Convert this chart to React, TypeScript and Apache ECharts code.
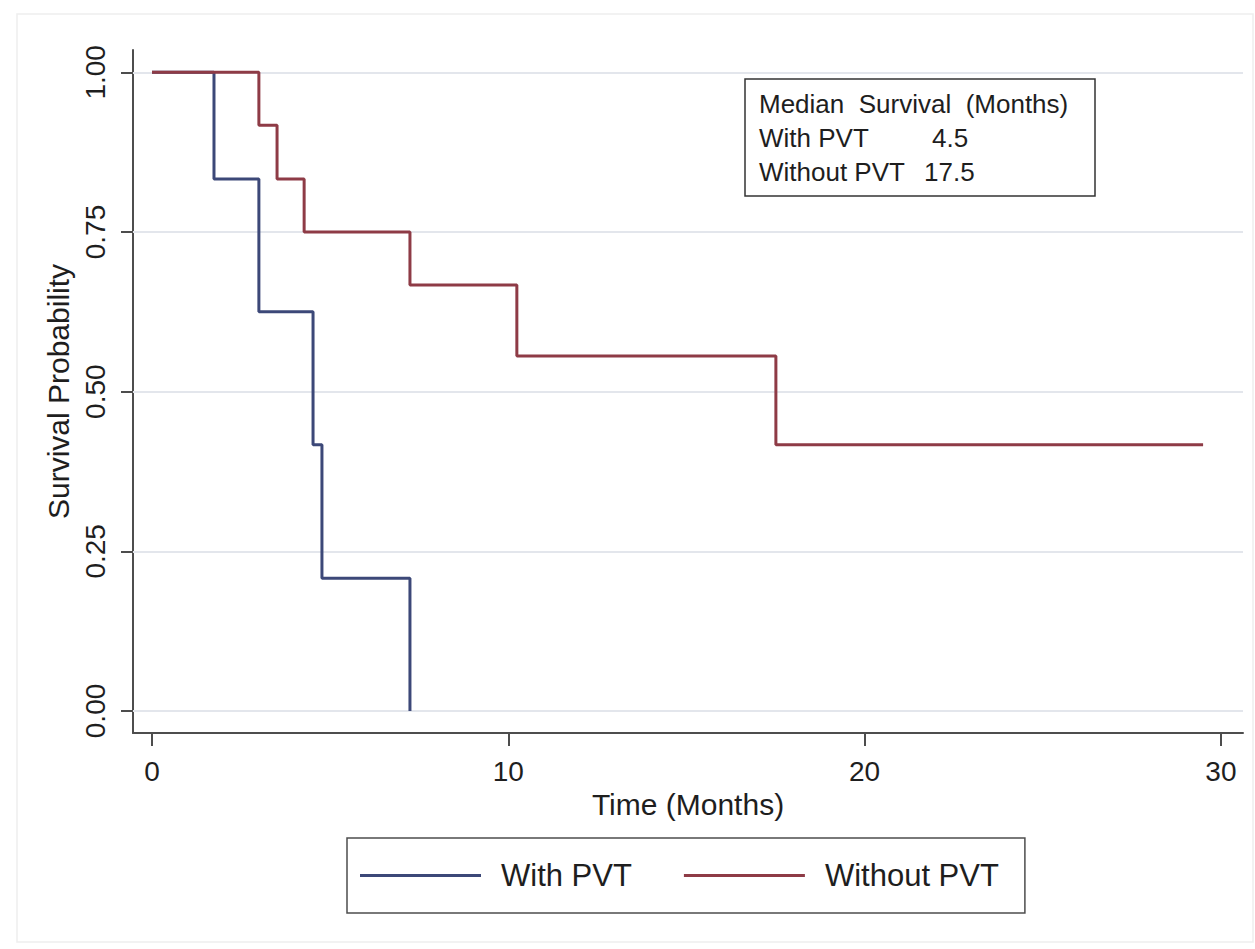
import React, { useEffect, useRef } from "react";
import * as echarts from "echarts";

// ---- data ----
const seriesNames = ["With PVT", "Without PVT"];
const withPvtTimes = [0, 1.74, 3.0, 4.52, 4.77, 7.24];
const withPvtSurv = [1, 0.833, 0.625, 0.417, 0.208, 0];
const withoutPvtTimes = [0, 3.0, 3.51, 4.27, 7.24, 10.24, 17.51, 29.5];
const withoutPvtSurv = [1, 0.917, 0.833, 0.75, 0.667, 0.556, 0.417, 0.417];
const xTicks = [0, 10, 20, 30];
const yTicks = [0, 0.25, 0.5, 0.75, 1];
const medianTitle = "Median  Survival  (Months)";
const medianGroups = ["With PVT", "Without PVT"];
const medianValues = ["4.5", "17.5"];
const xTitle = "Time (Months)";
const yTitle = "Survival Probability";

const FONT = "Arial, 'Liberation Sans', sans-serif";
const BLUE = "#3c4878";
const RED = "#8e3b46";
const AXIS = "#4d4d4d";
const TEXT = "#1e1e1e";

export default function App() {
  const ref = useRef<HTMLDivElement>(null);

  useEffect(() => {
    if (!ref.current) return;
    const chart = echarts.init(ref.current, undefined, { renderer: "svg" });

    const blueData = withPvtTimes.map((t, i) => [t, withPvtSurv[i]]);
    const redData = withoutPvtTimes.map((t, i) => [t, withoutPvtSurv[i]]);

    const option: any = {
      animation: false,
      backgroundColor: "#ffffff",
      grid: { left: 133, right: 12, top: 50, bottom: 216, containLabel: false },
      xAxis: {
        type: "value",
        min: -0.533,
        max: 30.62,
        axisLine: { show: true, onZero: false, lineStyle: { color: AXIS, width: 2 } },
        axisTick: { show: true, customValues: xTicks, length: 13, lineStyle: { color: AXIS, width: 2 } },
        axisLabel: { customValues: xTicks, fontSize: 28, color: TEXT, margin: 24, fontFamily: FONT },
        splitLine: { show: false },
        name: xTitle,
        nameLocation: "middle",
        nameGap: 55,
        nameTextStyle: { fontSize: 30, color: TEXT, fontFamily: FONT },
      },
      yAxis: {
        type: "value",
        min: -0.0345,
        max: 1.035,
        axisLine: { show: true, onZero: false, lineStyle: { color: AXIS, width: 2 } },
        axisTick: { show: true, customValues: yTicks, length: 12, lineStyle: { color: AXIS, width: 2 } },
        axisLabel: {
          customValues: yTicks,
          rotate: 90,
          fontSize: 28,
          color: TEXT,
          margin: 24,
          fontFamily: FONT,
          formatter: (v: number) => v.toFixed(2),
        },
        splitLine: { show: false },
        name: yTitle,
        nameLocation: "middle",
        nameGap: 60,
        nameRotate: 90,
        nameTextStyle: { fontSize: 30, color: TEXT, fontFamily: FONT },
      },
      legend: {
        data: seriesNames,
        left: 347,
        top: 838,
        orient: "horizontal",
        icon: "rect",
        itemWidth: 121,
        itemHeight: 3,
        itemGap: 52,
        selectedMode: false,
        borderColor: AXIS,
        borderWidth: 1.5,
        borderRadius: 0,
        padding: [22, 26, 22, 13],
        textStyle: { fontSize: 31, color: TEXT, fontFamily: FONT, padding: [0, 0, 0, 15] },
      },
      series: [
        {
          name: "grid",
          type: "line",
          data: [],
          z: 1,
          silent: true,
          markLine: {
            silent: true,
            z: 1,
            symbol: ["none", "none"],
            label: { show: false },
            lineStyle: { color: "#e3e6ec", width: 2, type: "solid" },
            data: yTicks.map((v) => ({ yAxis: v })),
          },
        },
        {
          name: seriesNames[0],
          type: "line",
          step: "end",
          symbol: "none",
          z: 3,
          lineStyle: { color: BLUE, width: 3 },
          itemStyle: { color: BLUE },
          data: blueData,
        },
        {
          name: seriesNames[1],
          type: "line",
          step: "end",
          symbol: "none",
          z: 4,
          lineStyle: { color: RED, width: 3 },
          itemStyle: { color: RED },
          data: redData,
        },
      ],
      graphic: [
        {
          type: "rect",
          silent: true,
          z: -10,
          shape: { x: 17, y: 14, width: 1236, height: 928 },
          style: { fill: "none", stroke: "#eeeeee", lineWidth: 1.5 },
        },
        {
          type: "rect",
          z: 10,
          shape: { x: 745, y: 79, width: 350, height: 117 },
          style: { fill: "#ffffff", stroke: "#333333", lineWidth: 1.5 },
        },
        {
          type: "text",
          z: 11,
          x: 759,
          y: 104,
          style: { text: medianTitle, fontSize: 26, fontFamily: FONT, fill: TEXT, verticalAlign: "middle" },
        },
        {
          type: "text",
          z: 11,
          x: 759,
          y: 138,
          style: { text: medianGroups[0], fontSize: 26, fontFamily: FONT, fill: TEXT, verticalAlign: "middle" },
        },
        {
          type: "text",
          z: 11,
          x: 932,
          y: 138,
          style: { text: medianValues[0], fontSize: 26, fontFamily: FONT, fill: TEXT, verticalAlign: "middle" },
        },
        {
          type: "text",
          z: 11,
          x: 759,
          y: 172,
          style: { text: medianGroups[1], fontSize: 26, fontFamily: FONT, fill: TEXT, verticalAlign: "middle" },
        },
        {
          type: "text",
          z: 11,
          x: 924,
          y: 172,
          style: { text: medianValues[1], fontSize: 26, fontFamily: FONT, fill: TEXT, verticalAlign: "middle" },
        },
      ],
    };

    chart.setOption(option);
    return () => chart.dispose();
  }, []);

  return (
    <div
      ref={ref}
      style={{ position: "fixed", left: 0, top: 0, width: 1255, height: 949, background: "#ffffff" }}
    />
  );
}
